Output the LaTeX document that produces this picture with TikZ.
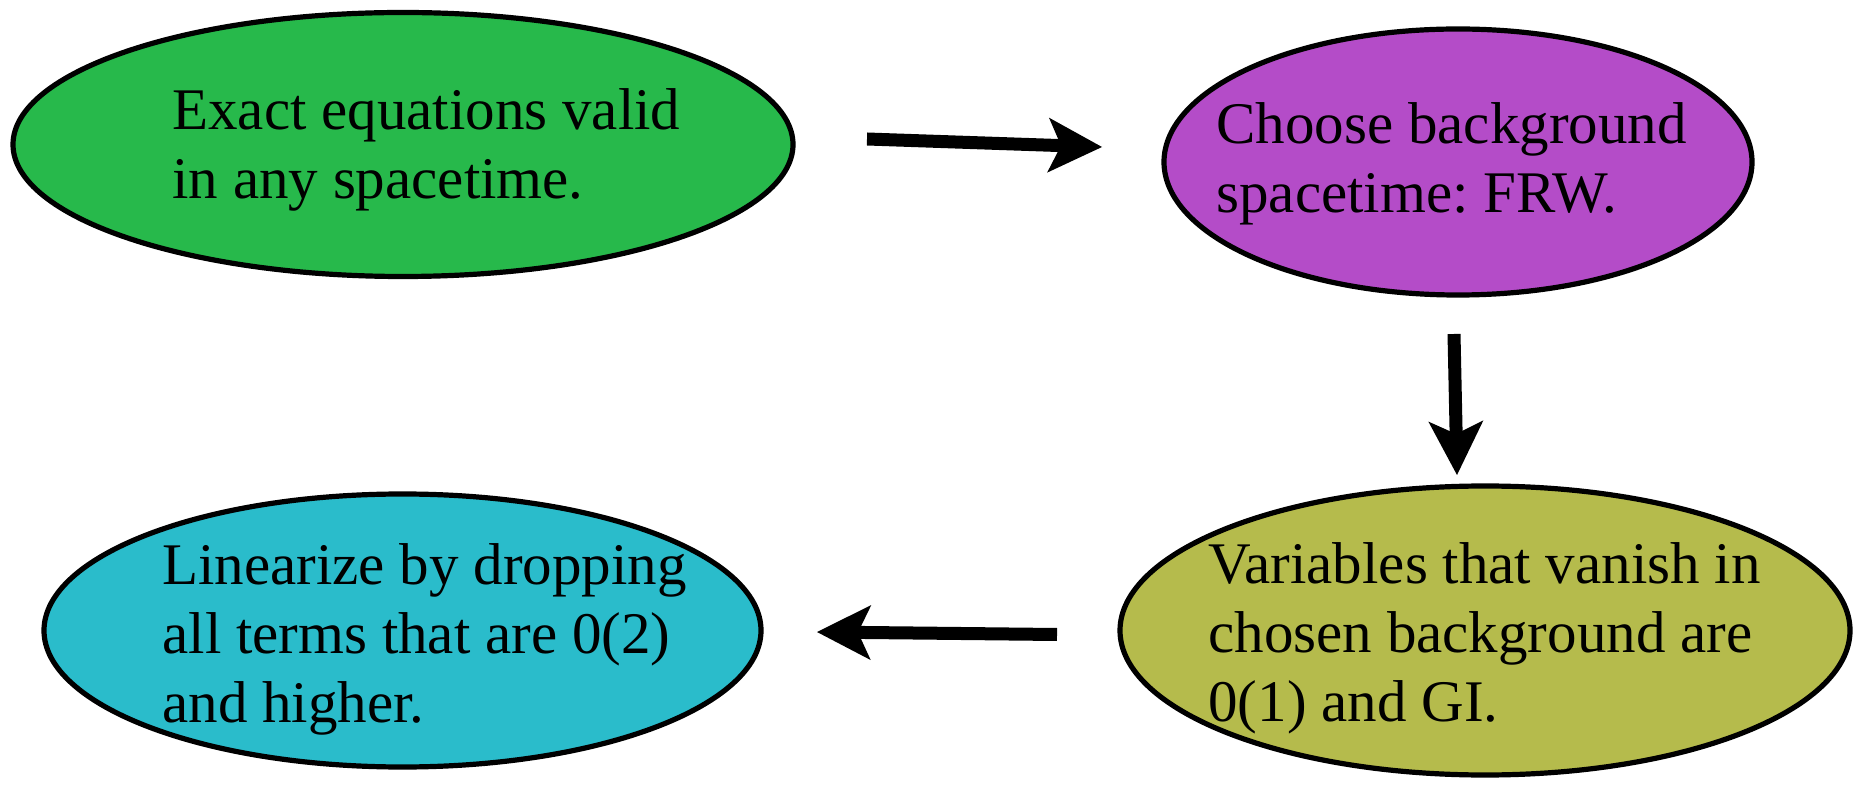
\documentclass[tikz,border=0pt]{standalone}
\usepackage{fontspec}
\setmainfont{Liberation Serif}
\frenchspacing
\usetikzlibrary{shapes.geometric,arrows.meta}
\definecolor{cgreen}{RGB}{39,185,75}
\definecolor{cpurple}{RGB}{180,76,200}
\definecolor{colive}{RGB}{181,187,76}
\definecolor{ccyan}{RGB}{42,188,203}
\tikzset{
  oval/.style={ellipse, draw=black, line width=2.6pt, inner sep=0pt},
  txt/.style={anchor=base west, inner sep=0pt, font=\fontsize{29.5}{34.5}\selectfont},
  bigarrow/.style={line width=6.5pt, -{Stealth[length=27pt,width=27.5pt,inset=6.5pt,line width=0pt]}}
}
\begin{document}
\begin{tikzpicture}[x=0.5pt,y=-0.5pt]
\useasboundingbox (0,0) rectangle (1857,785);
% ellipses
\node[oval, fill=cgreen, minimum width=390pt, minimum height=132pt] (green) at (403,144.5) {};
\node[oval, fill=cpurple, minimum width=294pt, minimum height=133pt] (purple) at (1458,162) {};
\node[oval, fill=colive, minimum width=365pt, minimum height=144.5pt] (olive) at (1485,630.5) {};
\node[oval, fill=ccyan, minimum width=358.5pt, minimum height=136.5pt] (cyan) at (402.5,630.5) {};
% texts
\node[txt] (tgreen) at (172,130) {\vtop{\hbox{Exact equations valid}\hbox{in any spacetime.}}};
\node[txt] (tpurple) at (1216,144) {\vtop{\hbox{Choose background}\hbox{spacetime: FRW.}}};
\node[txt] (tolive) at (1208,583) {\vtop{\hbox{Variables that vanish in}\hbox{chosen background are}\hbox{0(1) and GI.}}};
\node[txt] (tcyan) at (162,584) {\vtop{\hbox{Linearize by dropping}\hbox{all terms that are 0(2)}\hbox{and higher.}}};
% arrow end points
\coordinate (a1s) at (867,139);
\coordinate (a1e) at (1102,147);
\coordinate (a2s) at (1454,334);
\coordinate (a2e) at (1457,475);
\coordinate (a3s) at (1057,634.5);
\coordinate (a3e) at (817,632);
\draw[bigarrow] (a1s) -- (a1e);
\draw[bigarrow] (a2s) -- (a2e);
\draw[bigarrow] (a3s) -- (a3e);
\end{tikzpicture}
\end{document}
